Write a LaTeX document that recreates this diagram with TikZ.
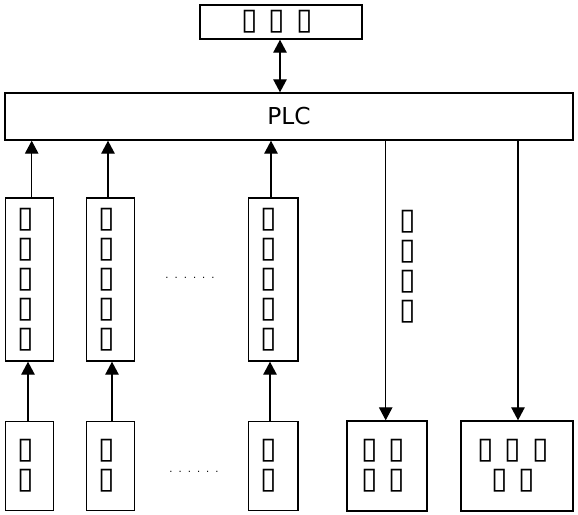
\documentclass[tikz,border=0pt]{standalone}
\usepackage{fontspec}
\setmainfont{DejaVu Sans}
\newfontfamily\symf{DejaVu Sans}
\usetikzlibrary{arrows.meta}
\newcommand\tofu{\makebox[27.7pt][l]{\hspace{1.7pt}{\symf\fontsize{30pt}{30pt}\selectfont ▯}}}
\newcommand\dotrow{.\kern6pt.\kern6pt.\kern6pt.\kern6pt.\kern6pt.}
\begin{document}
\begin{tikzpicture}[x=1pt,y=-1pt,
  box/.style={draw, line width=1.4pt, inner sep=0pt, align=center, font=\fontsize{24pt}{30pt}\selectfont},
  lbl/.style={inner sep=0pt, align=center, font=\fontsize{24pt}{30pt}\selectfont},
  dots/.style={inner sep=0pt, font=\fontsize{10pt}{12pt}\selectfont},
  arr/.style={line width=1.2pt, -{Triangle[length=13pt,width=13.5pt]}},
  darr/.style={line width=1.2pt, {Triangle[length=13pt,width=13.5pt]}-{Triangle[length=13pt,width=13.5pt]}}]
\useasboundingbox (0,0) rectangle (578,514);
% top
\node[box, minimum width=162pt, minimum height=34pt] (pc) at (281,22) {\tofu\tofu\tofu};
\node[box, minimum width=568pt, minimum height=47pt, font=\fontsize{23.3pt}{28pt}\selectfont] (plc) at (289,116.5) {PLC};
% signal conditioning boxes
\node[box, minimum width=47.6pt, minimum height=163pt] (t1) at (29.5,279.5) {\tofu\\\tofu\\\tofu\\\tofu\\\tofu};
\node[box, minimum width=47.6pt, minimum height=163pt] (t2) at (110.5,279.5) {\tofu\\\tofu\\\tofu\\\tofu\\\tofu};
\node[box, minimum width=49.6pt, minimum height=163pt] (t3) at (273,279.5) {\tofu\\\tofu\\\tofu\\\tofu\\\tofu};
% sensor boxes
\node[box, minimum width=47.6pt, minimum height=88.5pt] (s1) at (29.5,466) {\tofu\\\tofu};
\node[box, minimum width=47.6pt, minimum height=88.5pt] (s2) at (110.5,466) {\tofu\\\tofu};
\node[box, minimum width=49.6pt, minimum height=88.5pt] (s3) at (273,466) {\tofu\\\tofu};
% actuators
\node[box, minimum width=80pt, minimum height=90pt] (a1) at (387,466) {\tofu\tofu\\\tofu\tofu};
\node[box, minimum width=112pt, minimum height=90pt] (a2) at (517,466) {\tofu\tofu\tofu\\\tofu\tofu};
% labels
\node[lbl] (ctrl) at (411.2,266.5) {\tofu\\\tofu\\\tofu\\\tofu};
\node[dots] (d1) at (190,278) {\dotrow};
\node[dots] (d2) at (194,472) {\dotrow};
% connectors
\draw[darr] ([xshift=-1pt]pc.south) -- ([xshift=-1pt]pc.south |- plc.north);
\draw[arr] ([xshift=2.2pt]t1.north) -- ([xshift=2.2pt]t1.north |- plc.south);
\draw[arr] ([xshift=-2.5pt]t2.north) -- ([xshift=-2.5pt]t2.north |- plc.south);
\draw[arr] ([xshift=-2pt]t3.north) -- ([xshift=-2pt]t3.north |- plc.south);
\draw[arr] ([xshift=-1.5pt]s1.north) -- ([xshift=-1.5pt]s1.north |- t1.south);
\draw[arr] ([xshift=1.5pt]s2.north) -- ([xshift=1.5pt]s2.north |- t2.south);
\draw[arr] ([xshift=-3pt]s3.north) -- ([xshift=-3pt]s3.north |- t3.south);
\draw[arr] ([xshift=-1.3pt]a1.north |- plc.south) -- ([xshift=-1.3pt]a1.north);
\draw[arr] ([xshift=1pt]a2.north |- plc.south) -- ([xshift=1pt]a2.north);
\end{tikzpicture}
\end{document}
